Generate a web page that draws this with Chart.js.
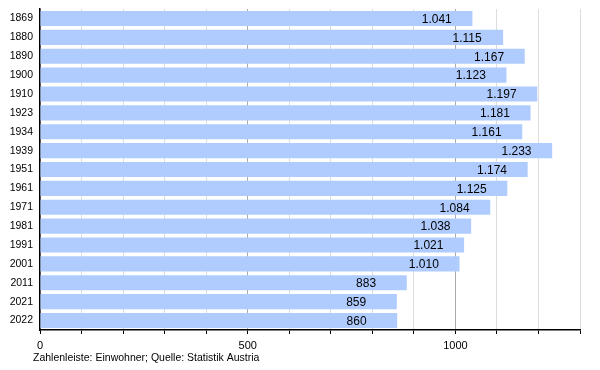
<!DOCTYPE html>
<html>
<head>
<meta charset="utf-8">
<script src="https://cdn.jsdelivr.net/npm/chart.js@4/dist/chart.umd.min.js"></script>
<style>
  html, body { margin: 0; padding: 0; background: #fff; }
  #wrap { width: 600px; height: 370px; position: relative; }
</style>
</head>
<body>
<div id="wrap"><canvas id="chart"></canvas></div>
<script>
// population by census year
const years = ['1869', '1880', '1890', '1900', '1910', '1923', '1934', '1939', '1951', '1961', '1971', '1981', '1991', '2001', '2011', '2021', '2022'];
const residents = [1041, 1115, 1167, 1123, 1197, 1181, 1161, 1233, 1174, 1125, 1084, 1038, 1021, 1010, 883, 859, 860];
const axisLabels = [0, 500, 1000];
const footnote = 'Zahlenleiste: Einwohner; Quelle: Statistik Austria';

const fontFamily = '"Liberation Sans", Arial, sans-serif';

// german thousands separator, e.g. 1.041
const fmt = v => v.toLocaleString('de-DE');

const valueLabels = {
  id: 'valueLabels',
  afterDatasetsDraw(chart) {
    const ctx = chart.ctx;
    const xs = chart.scales.x;
    const meta = chart.getDatasetMeta(0);
    ctx.save();
    ctx.font = '12px ' + fontFamily;
    ctx.fillStyle = '#000';
    ctx.textAlign = 'left';
    ctx.textBaseline = 'middle';
    meta.data.forEach((bar, i) => {
      const x = xs.getPixelForValue(residents[i] - 122);
      ctx.fillText(fmt(residents[i]), x, bar.y + 1);
    });
    ctx.restore();
  },
  afterDraw(chart) {
    const ctx = chart.ctx;
    ctx.save();
    ctx.font = '10.5px ' + fontFamily;
    ctx.fillStyle = '#000';
    ctx.textAlign = 'left';
    ctx.textBaseline = 'middle';
    ctx.fillText(footnote, 33, 358);
    ctx.restore();
  }
};

new Chart(document.getElementById('chart'), {
  type: 'bar',
  data: {
    labels: years,
    datasets: [{
      data: residents,
      backgroundColor: '#b0ccff',
      borderWidth: 0,
      barPercentage: 0.8,
      categoryPercentage: 1
    }]
  },
  options: {
    indexAxis: 'y',
    responsive: true,
    maintainAspectRatio: false,
    animation: false,
    layout: { padding: { left: 0, top: 9, right: 20, bottom: 0 } },
    plugins: { legend: { display: false }, tooltip: { enabled: false } },
    scales: {
      x: {
        min: 0,
        max: 1300,
        afterFit: s => { s.height = 40; s.paddingLeft = 0; s.paddingRight = 0; },
        ticks: {
          stepSize: 100,
          autoSkip: false,
          maxRotation: 0,
          padding: 5,
          color: '#000',
          font: { family: fontFamily, size: 11 },
          callback: v => axisLabels.includes(v) ? String(v) : ''
        },
        grid: {
          color: c => (c.tick && c.tick.value % 500 === 0) ? '#aaaaaa' : '#dddddd',
          tickColor: '#000',
          tickLength: 4,
          lineWidth: 1
        },
        border: { color: '#000', width: 1.5 }
      },
      y: {
        afterFit: s => { s.width = 40; s.paddingTop = 0; s.paddingBottom = 0; },
        ticks: {
          padding: 7,
          color: '#000',
          font: { family: fontFamily, size: 10.5 }
        },
        grid: { display: false, drawTicks: false },
        border: { color: '#000', width: 1.5 }
      }
    }
  },
  plugins: [valueLabels]
});
</script>
</body>
</html>
